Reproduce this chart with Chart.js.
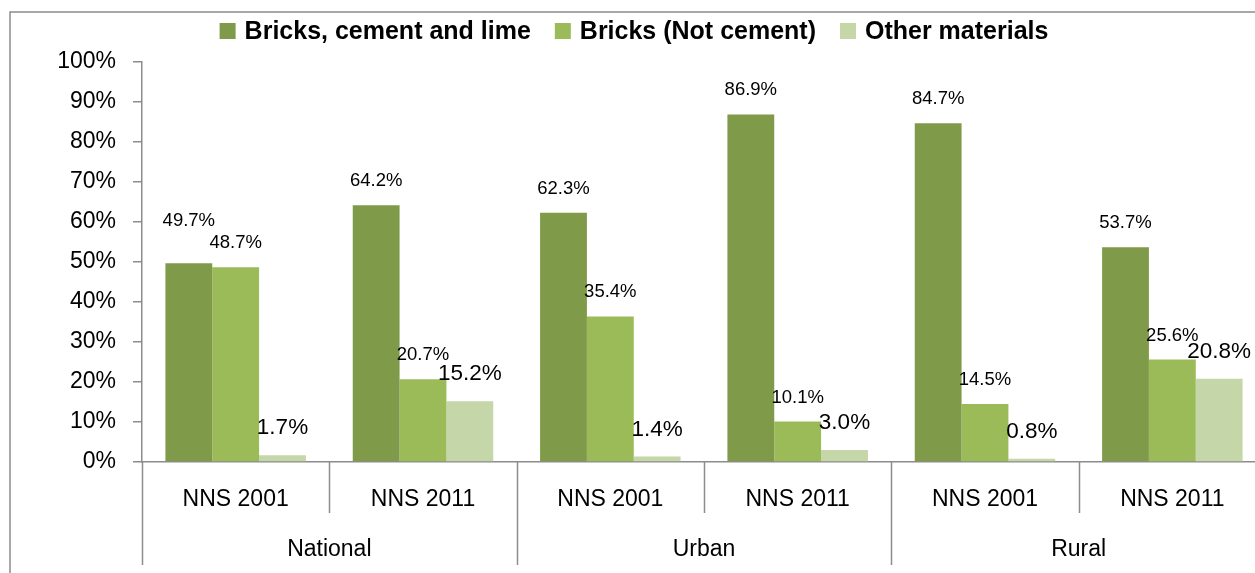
<!DOCTYPE html>
<html>
<head>
<meta charset="utf-8">
<script src="https://cdn.jsdelivr.net/npm/chart.js@4.4.1/dist/chart.umd.min.js"></script>
<style>
  html, body { margin: 0; padding: 0; overflow: hidden; background: #fff; width: 1255px; height: 573px; }
  #wrap { position: absolute; left: 0; top: 0; width: 1266px; height: 573px; }
</style>
</head>
<body>
<div id="wrap"><canvas id="c" width="1266" height="573"></canvas></div>
<script>
// ---- data ----
const categories = ['NNS 2001', 'NNS 2011', 'NNS 2001', 'NNS 2011', 'NNS 2001', 'NNS 2011'];
const groups = ['National', 'Urban', 'Rural'];
const seriesNames = ['Bricks, cement and lime', 'Bricks (Not cement)', 'Other materials'];
const bricksCementLime = [49.7, 64.2, 62.3, 86.9, 84.7, 53.7];
const bricksNotCement = [48.7, 20.7, 36.4, 10.1, 14.5, 25.6];
const otherMaterials = [1.7, 15.2, 1.4, 3.0, 0.8, 20.8];
const bricksCementLimeLabels = ['49.7%', '64.2%', '62.3%', '86.9%', '84.7%', '53.7%'];
const bricksNotCementLabels = ['48.7%', '20.7%', '35.4%', '10.1%', '14.5%', '25.6%'];
const otherMaterialsLabels = ['1.7%', '15.2%', '1.4%', '3.0%', '0.8%', '20.8%'];
const yTickValues = [0, 10, 20, 30, 40, 50, 60, 70, 80, 90, 100];

// ---- styles ----
const FONT = '"Liberation Sans", Arial, sans-serif';
const colors = ['#7F9B4A', '#9BBB59', '#C5D6A9'];
const axisGray = '#8C8C8C';
const labelSets = [bricksCementLimeLabels, bricksNotCementLabels, otherMaterialsLabels];
const labelFontSizes = [18.5, 18.5, 22.5];
const labelGaps = [24, 24, 27];

const framePlugin = {
  id: 'frame',
  beforeDraw(chart) {
    const ctx = chart.ctx;
    ctx.save();
    ctx.strokeStyle = axisGray;
    ctx.lineWidth = 1.5;
    ctx.beginPath();
    ctx.moveTo(10, chart.height);
    ctx.lineTo(10, 12);
    ctx.lineTo(chart.width, 12);
    ctx.stroke();
    ctx.restore();
  }
};

const legendPlugin = {
  id: 'customLegend',
  afterDraw(chart) {
    const ctx = chart.ctx;
    ctx.save();
    ctx.font = 'bold 25px ' + FONT;
    const box = 16, gapText = 9, gapItem = 24;
    const items = chart.data.datasets.map(d => ({ text: d.label, color: d.backgroundColor, w: ctx.measureText(d.label).width }));
    let total = 0;
    items.forEach((it, i) => { total += box + gapText + it.w + (i < items.length - 1 ? gapItem : 0); });
    let x = (chart.width - total) / 2 + 1;
    const yc = 31;
    ctx.textBaseline = 'middle';
    ctx.textAlign = 'left';
    items.forEach(it => {
      ctx.fillStyle = it.color;
      ctx.fillRect(x, yc - box / 2, box, box);
      ctx.fillStyle = '#000';
      ctx.fillText(it.text, x + box + gapText, yc + 1);
      x += box + gapText + it.w + gapItem;
    });
    ctx.restore();
  }
};

const groupAxisPlugin = {
  id: 'groupAxis',
  afterDraw(chart) {
    const xs = chart.scales.x;
    const ctx = chart.ctx;
    const y0 = chart.chartArea.bottom;
    const n = categories.length;
    const bounds = [];
    for (let i = 0; i <= n; i++) {
      let b;
      if (i === 0) b = xs.getPixelForValue(0) - (xs.getPixelForValue(1) - xs.getPixelForValue(0)) / 2;
      else if (i === n) b = xs.getPixelForValue(n - 1) + (xs.getPixelForValue(n - 1) - xs.getPixelForValue(n - 2)) / 2;
      else b = (xs.getPixelForValue(i - 1) + xs.getPixelForValue(i)) / 2;
      bounds.push(b);
    }
    ctx.save();
    ctx.strokeStyle = axisGray;
    ctx.lineWidth = 1.5;
    bounds.forEach((b, i) => {
      const long = i % 2 === 0;
      ctx.beginPath();
      ctx.moveTo(Math.round(b) + 0.5, y0);
      ctx.lineTo(Math.round(b) + 0.5, long ? 565 : 513);
      ctx.stroke();
    });
    ctx.fillStyle = '#000';
    ctx.font = '23px ' + FONT;
    ctx.textAlign = 'center';
    ctx.textBaseline = 'middle';
    groups.forEach((g, gi) => {
      const cx = (bounds[gi * 2] + bounds[gi * 2 + 2]) / 2;
      ctx.fillText(g, cx, 550);
    });
    ctx.restore();
  }
};

const dataLabelPlugin = {
  id: 'valueLabels',
  afterDatasetsDraw(chart) {
    const ctx = chart.ctx;
    ctx.save();
    ctx.fillStyle = '#000';
    ctx.textAlign = 'center';
    ctx.textBaseline = 'middle';
    const placed = [];
    for (let d = 0; d < chart.data.datasets.length; d++) {
      placed.push(chart.getDatasetMeta(d).data.map(bar => ({ x: bar.x, y: bar.y - labelGaps[d] })));
    }
    // lift a first-series label that would collide with its neighbour's label
    placed[0].forEach((p, i) => {
      const q = placed[1][i];
      ctx.font = labelFontSizes[0] + 'px ' + FONT;
      const w = ctx.measureText(labelSets[0][i]).width;
      if (Math.abs(p.y - q.y) < 20 && Math.abs(p.x - q.x) < w) p.y = q.y - 22;
    });
    for (let d = 0; d < placed.length; d++) {
      ctx.font = labelFontSizes[d] + 'px ' + FONT;
      placed[d].forEach((p, i) => ctx.fillText(labelSets[d][i], p.x, p.y));
    }
    ctx.restore();
  }
};

new Chart(document.getElementById('c'), {
  type: 'bar',
  data: {
    labels: categories,
    datasets: [
      { label: seriesNames[0], data: bricksCementLime, backgroundColor: colors[0] },
      { label: seriesNames[1], data: bricksNotCement, backgroundColor: colors[1] },
      { label: seriesNames[2], data: otherMaterials, backgroundColor: colors[2] }
    ]
  },
  options: {
    responsive: false,
    animation: false,
    devicePixelRatio: 1,
    layout: { padding: { top: 62, right: 0, bottom: 0, left: 0 } },
    datasets: { bar: { categoryPercentage: 0.75, barPercentage: 1.0, borderWidth: 0 } },
    plugins: { legend: { display: false }, tooltip: { enabled: false }, title: { display: false } },
    scales: {
      x: {
        grid: { display: false, drawTicks: false },
        border: { display: true, color: axisGray, width: 1.5 },
        ticks: { color: '#000', font: { family: FONT, size: 23 }, padding: 24, maxRotation: 0 },
        afterFit(scale) { scale.height = 111; }
      },
      y: {
        min: 0, max: 100,
        afterBuildTicks(scale) { scale.ticks = yTickValues.map(v => ({ value: v })); },
        grid: { drawOnChartArea: false, drawTicks: true, tickLength: 9, color: axisGray, lineWidth: 1.5 },
        border: { display: true, color: axisGray, width: 1.5 },
        ticks: { color: '#000', font: { family: FONT, size: 23 }, padding: 17, callback: v => v + '%' },
        afterFit(scale) { scale.width = 142; }
      }
    }
  },
  plugins: [framePlugin, groupAxisPlugin, dataLabelPlugin, legendPlugin]
});
</script>
</body>
</html>
